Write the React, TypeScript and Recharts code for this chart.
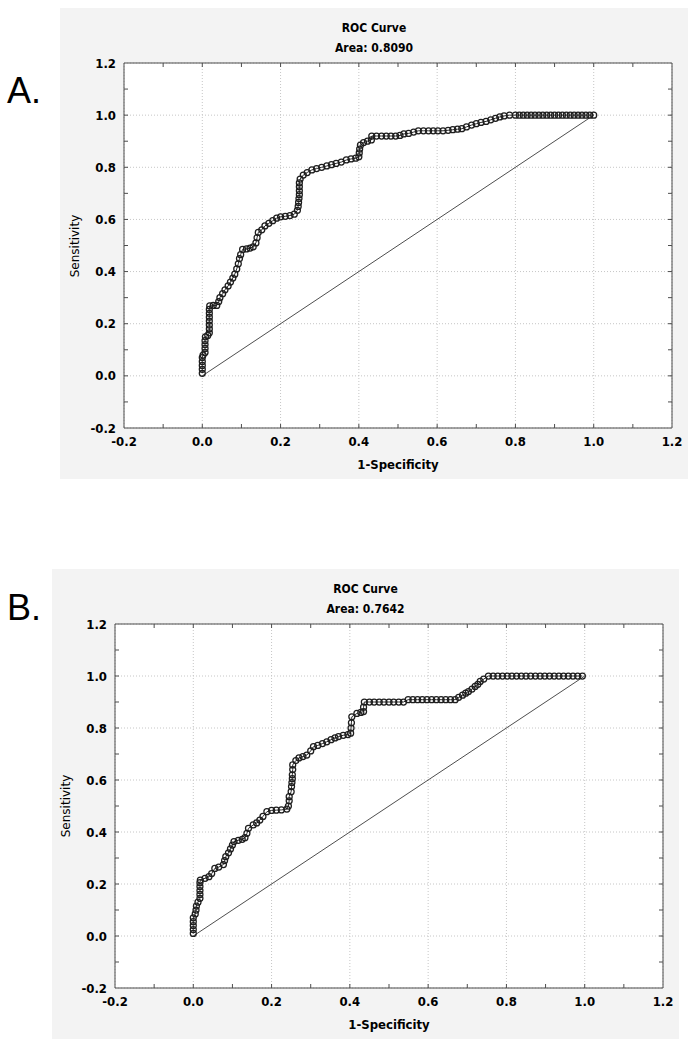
import React from 'react';
import {
  ScatterChart,
  Scatter,
  XAxis,
  YAxis,
  CartesianGrid,
  ReferenceLine,
  ReferenceArea,
} from 'recharts';

// axis ticks
const majorTicks = [-0.2, 0, 0.2, 0.4, 0.6, 0.8, 1.0, 1.2];
const minorTicks = [-0.1, 0, 0.1, 0.2, 0.3, 0.4, 0.5, 0.6, 0.7, 0.8, 0.9, 1.0, 1.1];
const chanceFpr = [0, 1];
const chanceTpr = [0, 1];

// panel A: 1-specificity / sensitivity
const rocAFpr = [
  0, 0, 0, 0, 0, 0.002, 0.007, 0.007, 0.007, 0.007, 0.008, 0.014, 0.018, 0.018, 0.018, 0.018,
  0.018, 0.018, 0.018, 0.019, 0.028, 0.037, 0.042, 0.045, 0.052, 0.058, 0.066, 0.072, 0.078,
  0.083, 0.088, 0.092, 0.095, 0.098, 0.103, 0.113, 0.122, 0.13, 0.137, 0.14, 0.143, 0.152, 0.16,
  0.17, 0.18, 0.19, 0.2, 0.212, 0.224, 0.235, 0.243, 0.245, 0.246, 0.247, 0.248, 0.248, 0.248,
  0.248, 0.25, 0.258, 0.268, 0.28, 0.292, 0.305, 0.318, 0.33, 0.342, 0.355, 0.368, 0.38, 0.392,
  0.4, 0.401, 0.402, 0.404, 0.412, 0.422, 0.432, 0.433, 0.445, 0.458, 0.47, 0.482, 0.494, 0.505,
  0.515, 0.527, 0.54, 0.552, 0.565, 0.578, 0.59, 0.602, 0.615, 0.628, 0.64, 0.652, 0.663, 0.675,
  0.688, 0.7, 0.712, 0.725, 0.737, 0.749, 0.76, 0.771, 0.785, 0.8, 0.81, 0.82, 0.83, 0.84, 0.85,
  0.86, 0.87, 0.88, 0.89, 0.9, 0.91, 0.92, 0.93, 0.94, 0.95, 0.96, 0.97, 0.98, 0.99, 1,
];
const rocATpr = [
  0.01, 0.025, 0.04, 0.055, 0.07, 0.08, 0.09, 0.105, 0.12, 0.135, 0.15, 0.155, 0.165, 0.18, 0.195,
  0.21, 0.225, 0.24, 0.255, 0.268, 0.27, 0.27, 0.285, 0.3, 0.315, 0.33, 0.345, 0.36, 0.375, 0.39,
  0.41, 0.43, 0.45, 0.465, 0.485, 0.487, 0.49, 0.495, 0.51, 0.53, 0.55, 0.56, 0.575, 0.585, 0.595,
  0.605, 0.61, 0.612, 0.615, 0.62, 0.635, 0.65, 0.665, 0.68, 0.695, 0.71, 0.725, 0.74, 0.755, 0.77,
  0.78, 0.79, 0.795, 0.8, 0.805, 0.81, 0.815, 0.82, 0.828, 0.832, 0.835, 0.84, 0.855, 0.87, 0.885,
  0.895, 0.9, 0.905, 0.92, 0.92, 0.92, 0.92, 0.92, 0.92, 0.922, 0.928, 0.93, 0.935, 0.94, 0.94,
  0.94, 0.94, 0.94, 0.94, 0.942, 0.944, 0.946, 0.948, 0.955, 0.962, 0.967, 0.972, 0.976, 0.982,
  0.988, 0.993, 0.997, 1, 1, 1, 1, 1, 1, 1, 1, 1, 1, 1, 1, 1, 1, 1, 1, 1, 1, 1, 1, 1, 1,
];

// panel B
const rocBFpr = [
  0, 0, 0, 0, 0, 0.005, 0.007, 0.008, 0.012, 0.017, 0.017, 0.017, 0.017, 0.017, 0.018, 0.03, 0.04,
  0.047, 0.055, 0.065, 0.077, 0.08, 0.083, 0.09, 0.095, 0.1, 0.104, 0.115, 0.125, 0.132, 0.137,
  0.141, 0.153, 0.162, 0.17, 0.178, 0.188, 0.2, 0.212, 0.225, 0.239, 0.243, 0.245, 0.245, 0.25,
  0.251, 0.252, 0.253, 0.253, 0.254, 0.254, 0.262, 0.27, 0.28, 0.29, 0.3, 0.307, 0.318, 0.33,
  0.341, 0.352, 0.362, 0.371, 0.383, 0.395, 0.402, 0.403, 0.404, 0.405, 0.418, 0.428, 0.435,
  0.435, 0.437, 0.45, 0.462, 0.475, 0.487, 0.5, 0.512, 0.525, 0.537, 0.549, 0.561, 0.573, 0.585,
  0.597, 0.609, 0.621, 0.633, 0.645, 0.657, 0.669, 0.678, 0.688, 0.696, 0.703, 0.712, 0.72,
  0.727, 0.733, 0.742, 0.754, 0.766, 0.778, 0.79, 0.802, 0.814, 0.826, 0.838, 0.85, 0.862, 0.874,
  0.886, 0.898, 0.91, 0.922, 0.934, 0.946, 0.958, 0.97, 0.982, 0.994, 1,
];
const rocBTpr = [
  0.01, 0.025, 0.04, 0.055, 0.07, 0.085, 0.1, 0.115, 0.13, 0.145, 0.16, 0.175, 0.19, 0.205, 0.215,
  0.222, 0.228, 0.24, 0.26, 0.265, 0.275, 0.29, 0.305, 0.32, 0.335, 0.35, 0.363, 0.368, 0.372,
  0.378, 0.395, 0.414, 0.427, 0.435, 0.446, 0.46, 0.478, 0.483, 0.484, 0.485, 0.488, 0.5, 0.52,
  0.536, 0.555, 0.575, 0.59, 0.605, 0.62, 0.64, 0.658, 0.675, 0.685, 0.69, 0.696, 0.712, 0.728,
  0.733, 0.74, 0.747, 0.755, 0.762, 0.767, 0.772, 0.775, 0.78, 0.8, 0.82, 0.843, 0.856, 0.86,
  0.863, 0.88, 0.9, 0.9, 0.9, 0.9, 0.9, 0.9, 0.9, 0.9, 0.9, 0.909, 0.909, 0.909, 0.909, 0.909,
  0.909, 0.909, 0.909, 0.909, 0.909, 0.909, 0.918, 0.926, 0.934, 0.94, 0.95, 0.96, 0.968, 0.979,
  0.988, 1, 1, 1, 1, 1, 1, 1, 1, 1, 1, 1, 1, 1, 1, 1, 1, 1, 1, 1, 1, 1,
];

const labelFont = '"DejaVu Sans Condensed", "DejaVu Sans", Tahoma, sans-serif';
const frameColor = '#4d4d4d';

const toPoints = (xs: number[], ys: number[]) => xs.map((x, i) => ({ x, y: ys[i] }));

const Marker = (props: any) => (
  <circle cx={props.cx} cy={props.cy} r={3} fill="none" stroke="#1e1e1e" strokeWidth={1.25} />
);

type PanelProps = {
  letter: string;
  area: string;
  fpr: number[];
  tpr: number[];
  left: number;
  top: number;
  width: number;
  height: number;
  yAxisWidth: number;
  letterTop: number;
};

function RocPanel({ letter, area, fpr, tpr, left, top, width, height, yAxisWidth, letterTop }: PanelProps) {
  const marginTop = 55;
  const marginRight = 16;
  const xAxisHeight = 51;
  const plotW = width - yAxisWidth - marginRight;
  const plotH = height - marginTop - xAxisHeight;
  // inward tick length (4px) in data units
  const tickX = (4 / plotW) * 1.4;
  const tickY = (4 / plotH) * 1.4;
  const data = toPoints(fpr, tpr);
  const chance = toPoints(chanceFpr, chanceTpr);

  return (
    <>
      <div
        style={{
          position: 'absolute',
          left: 7,
          top: letterTop,
          fontFamily: '"Liberation Sans", Arial, sans-serif',
          fontSize: 36,
          lineHeight: '36px',
          color: '#000',
        }}
      >
        {letter}
      </div>
      <div
        style={{
          position: 'absolute',
          left,
          top,
          width,
          height,
          background: '#f3f3f3',
        }}
      >
        <ScatterChart
          width={width}
          height={height}
          margin={{ top: marginTop, right: marginRight, left: 0, bottom: 0 }}
        >
          <CartesianGrid stroke="#c6c6c6" strokeDasharray="1 2" fill="#ffffff" />
          <XAxis
            type="number"
            dataKey="x"
            domain={[-0.2, 1.2]}
            ticks={majorTicks}
            allowDataOverflow
            height={xAxisHeight}
            axisLine={false}
            tickLine={false}
            tickMargin={3}
            tickFormatter={(v: number) => v.toFixed(1)}
            tick={{ fontSize: 13, fontWeight: 'bold', fill: '#000', fontFamily: labelFont }}
          />
          <YAxis
            type="number"
            dataKey="y"
            domain={[-0.2, 1.2]}
            ticks={majorTicks}
            allowDataOverflow
            width={yAxisWidth}
            axisLine={false}
            tickLine={false}
            tickFormatter={(v: number) => v.toFixed(1)}
            tick={{ fontSize: 13, fontWeight: 'bold', fill: '#000', fontFamily: labelFont }}
          />
          {minorTicks.map((t) => (
            <ReferenceLine
              key={'b' + t}
              segment={[{ x: t, y: -0.2 }, { x: t, y: -0.2 + tickY }]}
              stroke={frameColor}
            />
          ))}
          {minorTicks.map((t) => (
            <ReferenceLine
              key={'t' + t}
              segment={[{ x: t, y: 1.2 }, { x: t, y: 1.2 - tickY }]}
              stroke={frameColor}
            />
          ))}
          {minorTicks.map((t) => (
            <ReferenceLine
              key={'l' + t}
              segment={[{ x: -0.2, y: t }, { x: -0.2 + tickX, y: t }]}
              stroke={frameColor}
            />
          ))}
          {minorTicks.map((t) => (
            <ReferenceLine
              key={'r' + t}
              segment={[{ x: 1.2, y: t }, { x: 1.2 - tickX, y: t }]}
              stroke={frameColor}
            />
          ))}
          <ReferenceArea
            x1={-0.2}
            x2={1.2}
            y1={-0.2}
            y2={1.2}
            fill="none"
            fillOpacity={0}
            stroke={frameColor}
            strokeWidth={1}
            ifOverflow="visible"
          />
          <ReferenceLine
            segment={[chance[0], chance[1]]}
            stroke="#3a3a3a"
            strokeWidth={0.9}
          />
          <Scatter
            data={data}
            shape={Marker}
            line={{ stroke: '#2a2a2a', strokeWidth: 1 }}
            isAnimationActive={false}
          />
        </ScatterChart>
        <div
          style={{
            position: 'absolute',
            left: 0,
            width,
            top: 10,
            textAlign: 'center',
            fontFamily: labelFont,
            fontWeight: 'bold',
            fontSize: 12,
            lineHeight: '20px',
            color: '#000',
          }}
        >
          <div>ROC Curve</div>
          <div>{area}</div>
        </div>
        <div
          style={{
            position: 'absolute',
            left: yAxisWidth * 0.23,
            top: marginTop + plotH / 2,
            transform: 'translate(-50%, -50%) rotate(-90deg)',
            fontFamily: '"DejaVu Sans", Verdana, sans-serif',
            fontSize: 12,
            whiteSpace: 'nowrap',
            color: '#000',
          }}
        >
          Sensitivity
        </div>
        <div
          style={{
            position: 'absolute',
            left: yAxisWidth,
            width: plotW,
            top: marginTop + plotH + 29,
            textAlign: 'center',
            fontFamily: labelFont,
            fontWeight: 'bold',
            fontSize: 13,
            lineHeight: '16px',
            whiteSpace: 'nowrap',
            color: '#000',
          }}
        >
          1-Specificity
        </div>
      </div>
    </>
  );
}

export default function App() {
  return (
    <div style={{ position: 'absolute', left: 0, top: 0, width: 697, height: 1050, background: '#fff' }}>
      <RocPanel
        letter="A."
        area="Area: 0.8090"
        fpr={rocAFpr}
        tpr={rocATpr}
        left={60}
        top={8}
        width={628}
        height={471}
        yAxisWidth={64}
        letterTop={73}
      />
      <RocPanel
        letter="B."
        area="Area: 0.7642"
        fpr={rocBFpr}
        tpr={rocBTpr}
        left={52}
        top={569}
        width={627}
        height={470}
        yAxisWidth={63}
        letterTop={590}
      />
    </div>
  );
}
